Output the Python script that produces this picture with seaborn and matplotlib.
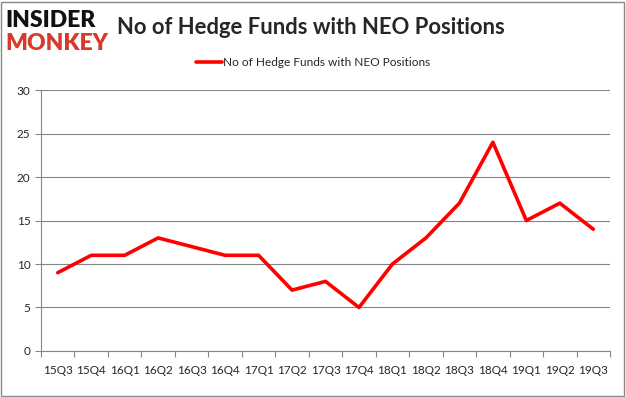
import matplotlib
matplotlib.use("Agg")
import matplotlib.pyplot as plt
import numpy as np
import pandas as pd
import seaborn as sns
from matplotlib.patches import Rectangle

QUARTERS = ["15Q3", "15Q4", "16Q1", "16Q2", "16Q3", "16Q4", "17Q1", "17Q2", "17Q3",
            "17Q4", "18Q1", "18Q2", "18Q3", "18Q4", "19Q1", "19Q2", "19Q3"]
FUND_COUNTS = [9, 11, 11, 13, 12, 11, 11, 7, 8, 5, 10, 13, 17, 24, 15, 17, 14]
Y_TICKS = [0, 5, 10, 15, 20, 25, 30]
SERIES_LABEL = "No of Hedge Funds with NEO Positions"
TITLE = "No of Hedge Funds with NEO Positions"

sns.set_theme(style="white")
plt.rcParams["font.family"] = ["Lato", "DejaVu Sans"]

df = pd.DataFrame({"pos": np.arange(len(QUARTERS)), "count": FUND_COUNTS})

fig = plt.figure(figsize=(6.26, 3.97), dpi=100)
ax = fig.add_axes([0.0655, 0.116, 0.909, 0.657])

sns.lineplot(data=df, x="pos", y="count", ax=ax, color="#ff0000", linewidth=2.6,
             label=SERIES_LABEL, legend=False)

ax.set_xlim(-0.5, len(QUARTERS) - 0.5)
ax.set_ylim(0, 30)
ax.set_yticks(Y_TICKS)
ax.set_xticks(np.arange(len(QUARTERS)))
ax.set_xticklabels(QUARTERS, fontsize=8.5)
ax.set_xticks(np.arange(len(QUARTERS) + 1) - 0.5, minor=True)
ax.tick_params(axis="x", which="major", length=0, pad=10)
ax.tick_params(axis="x", which="minor", length=4, color="#868686", width=0.8, bottom=True)
ax.tick_params(axis="y", length=4, color="#868686", width=0.8, left=True, labelsize=8.5)
ax.set_xlabel("")
ax.set_ylabel("")
ax.grid(axis="y", color="#868686", linewidth=0.8)
ax.set_axisbelow(True)
for side in ["top", "right"]:
    ax.spines[side].set_visible(False)
for side in ["left", "bottom"]:
    ax.spines[side].set_color("#868686")
    ax.spines[side].set_linewidth(0.8)

# legend above the plot
handles, labels = ax.get_legend_handles_labels()
fig.legend(handles, labels, loc="center", bbox_to_anchor=(0.5, 0.843), frameon=False,
           fontsize=8.6, handlelength=2.2, handletextpad=0.1)

# title and logo
fig.text(0.496, 0.93, TITLE, ha="center", va="center", fontsize=15.8, fontweight="bold")
fig.text(0.008, 0.948, "INSIDER", ha="left", va="center", fontsize=16.5,
         fontweight="heavy", color="#111111")
fig.text(0.008, 0.89, "MONKEY", ha="left", va="center", fontsize=16.5,
         fontweight="heavy", color="#d63a2a")

# gray outer border
fig.patches.append(Rectangle((0.002, 0.003), 0.995, 0.993, transform=fig.transFigure,
                             fill=False, edgecolor="#888888", linewidth=1))

fig.savefig("out.png", dpi=100)
